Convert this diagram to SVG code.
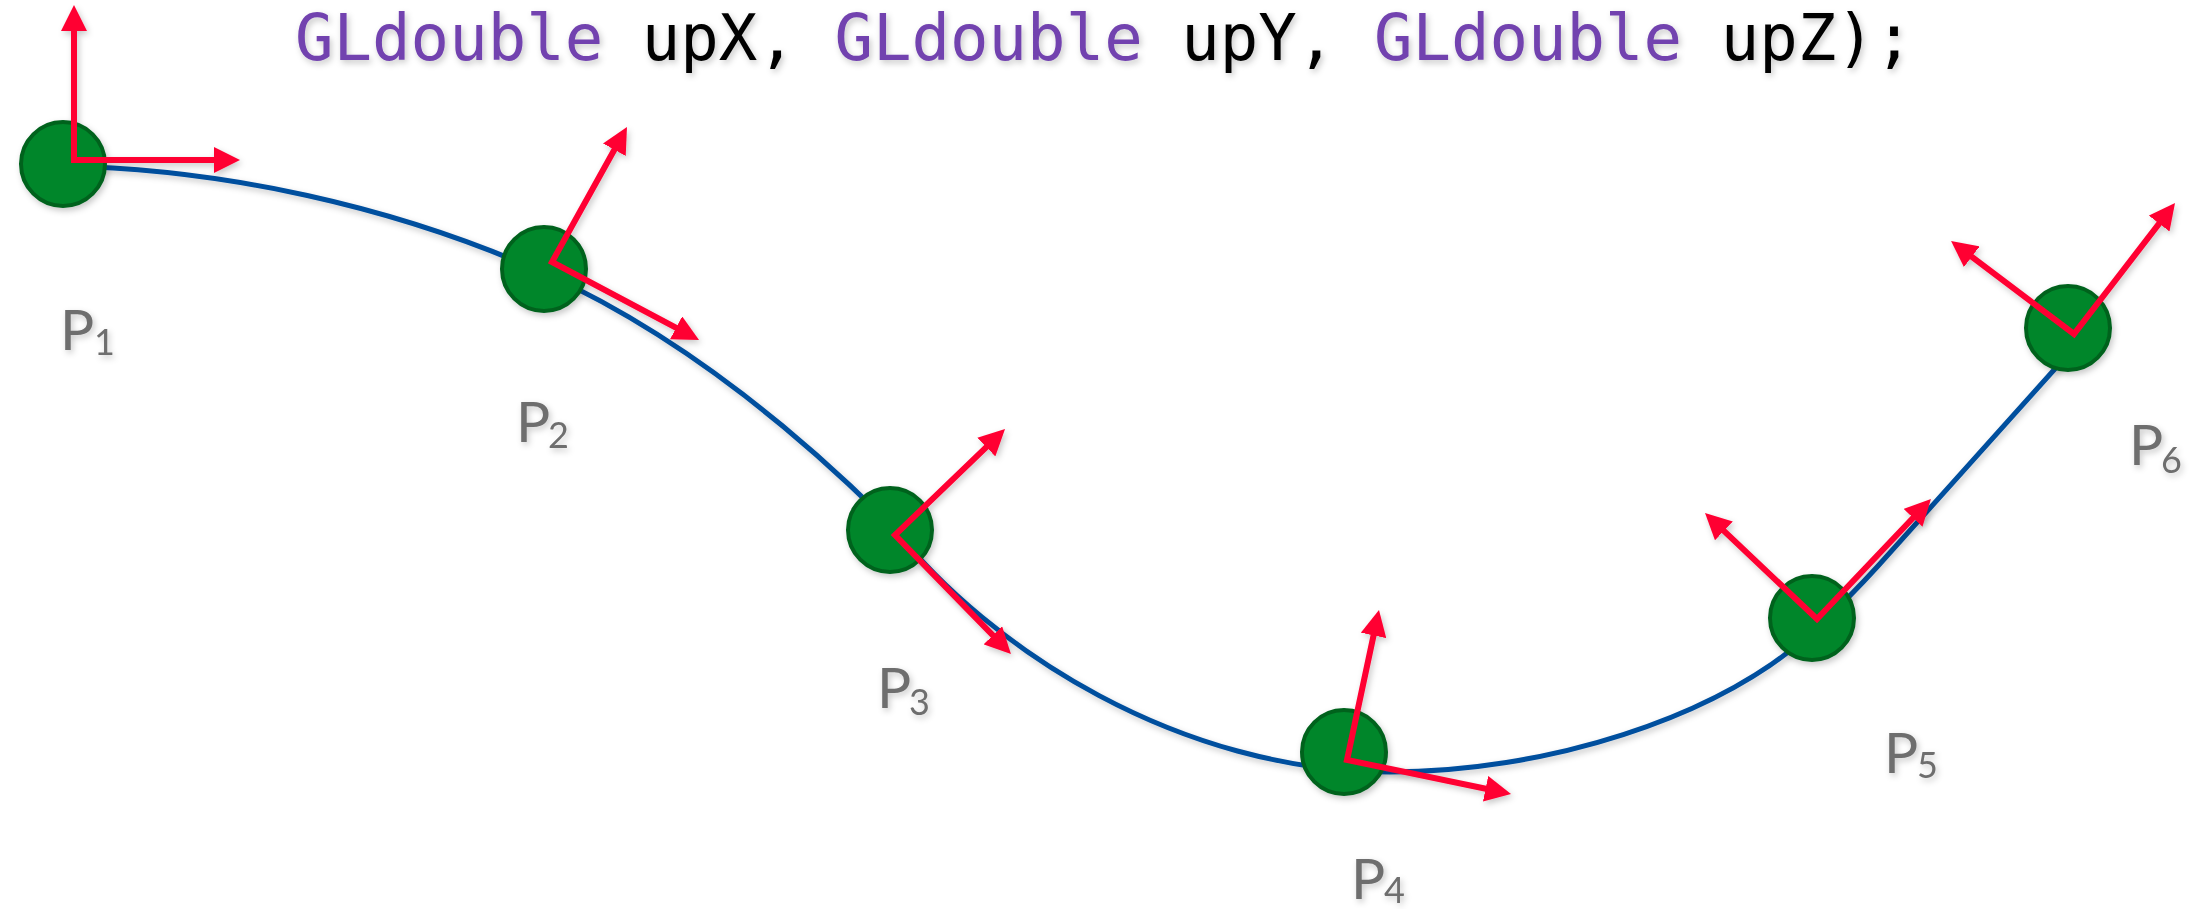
<svg xmlns="http://www.w3.org/2000/svg" width="2197" height="909" viewBox="0 0 2197 909">
  <defs>
    <style>
      .code { font-family: "DejaVu Sans Mono", "Liberation Mono", monospace; font-size: 64px; white-space: pre; }
      .kw { fill: #7243AF; }
      .id { fill: #000000; }
      .lbl { font-family: Lato, "Open Sans", "Liberation Sans", sans-serif; fill: #6E6E6E; }
      .lbl .main { font-size: 57px; }
      .lbl .sub { font-size: 36px; }
      .pt { fill: #03862B; stroke: #00621F; stroke-width: 4; }
      .axis { fill: none; stroke: #FF0033; stroke-width: 6; stroke-linejoin: miter; marker-start: url(#headStart); marker-end: url(#head); }
      .curve { fill: none; stroke: #004F9E; stroke-width: 5; }
    </style>
    <filter id="shadow" x="-20%" y="-20%" width="140%" height="140%">
      <feDropShadow dx="2" dy="3" stdDeviation="3" flood-color="#000" flood-opacity="0.22"/>
    </filter>
    <marker id="head" viewBox="0 0 26 26" markerWidth="26" markerHeight="26" refX="4" refY="13" orient="auto" markerUnits="userSpaceOnUse">
      <path d="M0,0 L26,13 L0,26 z" fill="#FF0033"/>
    </marker>
    <marker id="headStart" viewBox="0 0 26 26" markerWidth="26" markerHeight="26" refX="4" refY="13" orient="auto-start-reverse" markerUnits="userSpaceOnUse">
      <path d="M0,0 L26,13 L0,26 z" fill="#FF0033"/>
    </marker>
  </defs>

  <rect width="2197" height="909" fill="#FFFFFF"/>

  <g id="title" filter="url(#shadow)">
    <text class="code" x="295" y="60"><tspan class="kw">GLdouble</tspan><tspan class="id"> upX, </tspan><tspan class="kw">GLdouble</tspan><tspan class="id"> upY, </tspan><tspan class="kw">GLdouble</tspan><tspan class="id"> upZ);</tspan></text>
  </g>

  <g id="connectors" filter="url(#shadow)">
    <path class="curve" d="M63,166 C223,169 394,206 544,273 C664,327 783,417 893,527 C990,650 1180,772 1390,772 C1540,772 1719,721 1819,626 C1838,608 1858,588 1878,566 L2062,361"/>
  </g>

  <g id="node-p1" filter="url(#shadow)">
    <circle class="pt" cx="63" cy="164" r="42"/>
    <path class="axis" d="M74,27 L74,160 L218,160"/>
    <text class="lbl" x="60" y="350"><tspan class="main">P</tspan><tspan class="sub" x="94" y="355">1</tspan></text>
  </g>

  <g id="node-p2" filter="url(#shadow)">
    <circle class="pt" cx="544" cy="269" r="42"/>
    <path class="axis" d="M616.3,146.2 L552,262 L679.6,329.7"/>
    <text class="lbl" x="516" y="442"><tspan class="main">P</tspan><tspan class="sub" x="548" y="448">2</tspan></text>
  </g>

  <g id="node-p3" filter="url(#shadow)">
    <circle class="pt" cx="890" cy="530" r="42"/>
    <path class="axis" d="M989.2,444.3 L895,535 L995.6,638.2"/>
    <text class="lbl" x="877" y="708"><tspan class="main">P</tspan><tspan class="sub" x="909" y="715">3</tspan></text>
  </g>

  <g id="node-p4" filter="url(#shadow)">
    <circle class="pt" cx="1344" cy="752" r="42"/>
    <path class="axis" d="M1374.4,631.5 L1347,760 L1489.5,789.5"/>
    <text class="lbl" x="1351" y="899"><tspan class="main">P</tspan><tspan class="sub" x="1384" y="903">4</tspan></text>
  </g>

  <g id="node-p5" filter="url(#shadow)">
    <circle class="pt" cx="1812" cy="618" r="42"/>
    <path class="axis" d="M1721,528.1 L1817,619 L1915.8,515"/>
    <text class="lbl" x="1884" y="773"><tspan class="main">P</tspan><tspan class="sub" x="1917" y="778">5</tspan></text>
  </g>

  <g id="node-p6" filter="url(#shadow)">
    <circle class="pt" cx="2068" cy="328" r="42"/>
    <path class="axis" d="M1968.6,254.3 L2074,334 L2161.6,220.4"/>
    <text class="lbl" x="2129" y="465"><tspan class="main">P</tspan><tspan class="sub" x="2161" y="473">6</tspan></text>
  </g>
</svg>
